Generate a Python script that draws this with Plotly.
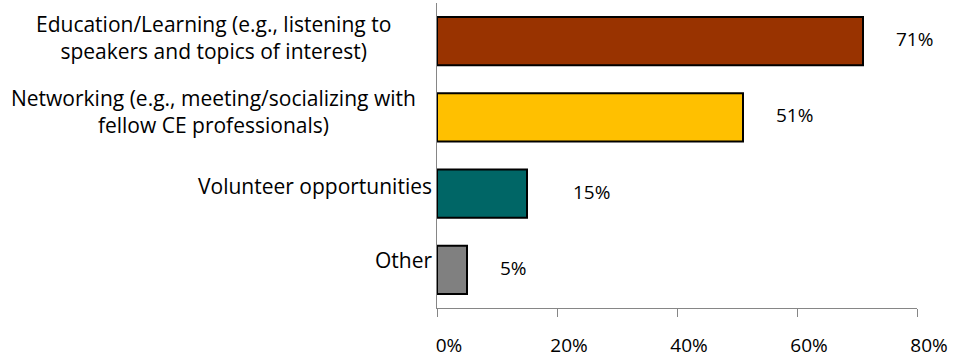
import plotly.graph_objects as go

categories = [
    "Education/Learning (e.g., listening to<br>speakers and topics of interest)",
    "Networking (e.g., meeting/socializing with<br>fellow CE professionals)",
    "Volunteer opportunities",
    "Other",
]
values = [71, 51, 15, 5]
value_labels = ["71%", "51%", "15%", "5%"]
x_tickvals = [0, 20, 40, 60, 80]
x_ticktext = ["0%", "20%", "40%", "60%", "80%"]

colors = ["#993300", "#FFC000", "#006666", "#808080"]
FONT = "Open Sans"
FS_CAT = 21
FS = 19

# style: per-row tweaks for label placement (pixels)
value_gap = [31, 31, 44, 31]
cat_yshift = [4, 6, 8, 10]

fig = go.Figure()
fig.add_trace(go.Bar(
    x=values, y=categories, orientation="h",
    marker=dict(color=colors, line=dict(color="#000000", width=2)),
    hoverinfo="skip", showlegend=False,
))

annotations = []
for i, (c, v, t) in enumerate(zip(categories, values, value_labels)):
    annotations.append(dict(
        x=v, y=c, xref="x", yref="y", text=t, showarrow=False,
        xanchor="left", yanchor="middle", xshift=value_gap[i], yshift=2,
        font=dict(family=FONT, size=FS, color="#000000"),
    ))
    if "<br>" in c:
        annotations.append(dict(
            x=0, y=c, xref="paper", yref="y", text=c, showarrow=False,
            xanchor="center", yanchor="middle", align="center",
            xshift=-224, yshift=cat_yshift[i],
            font=dict(family=FONT, size=FS_CAT, color="#000000"),
        ))
    else:
        annotations.append(dict(
            x=0, y=c, xref="paper", yref="y", text=c, showarrow=False,
            xanchor="right", yanchor="middle", align="right",
            xshift=-3, yshift=cat_yshift[i],
            font=dict(family=FONT, size=FS_CAT, color="#000000"),
        ))

fig.update_layout(
    width=973, height=361,
    margin=dict(l=437, r=56, t=3, b=46),
    paper_bgcolor="white", plot_bgcolor="white",
    bargap=0.37,
    font=dict(family=FONT, size=FS, color="#000000"),
    annotations=annotations,
    xaxis=dict(
        range=[0, 80], tickvals=x_tickvals, ticktext=x_ticktext,
        showgrid=False, zeroline=False,
        showline=True, linecolor="#868686", linewidth=1,
        ticks="outside", ticklen=8, tickcolor="#868686", tickwidth=1,
        ticklabelshift=12, ticklabelstandoff=12,
        tickfont=dict(family=FONT, size=FS, color="#000000"),
        fixedrange=True,
    ),
    yaxis=dict(
        categoryorder="array", categoryarray=categories[::-1],
        showticklabels=False, showgrid=False, zeroline=False,
        showline=True, linecolor="#868686", linewidth=1, ticks="",
        fixedrange=True,
    ),
)

fig.write_html(
    "out.html",
    config={"displayModeBar": False, "staticPlot": True},
    post_script="document.body.style.margin='0';document.body.style.overflow='hidden';",
)
